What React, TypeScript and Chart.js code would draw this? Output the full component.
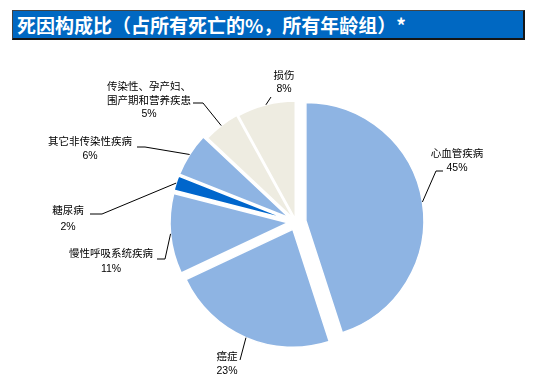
import React, { useEffect, useRef } from "react";
import { Chart, registerables, ArcElement } from "chart.js";

Chart.register(...registerables);

// ---- data ----
const categories: string[] = [
  "心血管疾病",
  "癌症",
  "慢性呼吸系统疾病",
  "糖尿病",
  "其它非传染性疾病",
  "传染性、孕产妇、围产期和营养疾患",
  "损伤",
];
const shares: number[] = [45, 23, 11, 2, 6, 5, 8];
const titleText = "死因构成比（占所有死亡的%，所有年龄组）*";

// ---- styling ----
const sliceColors = ["#8EB4E3", "#8EB4E3", "#8EB4E3", "#0066CC", "#8EB4E3", "#EEECE1", "#EEECE1"];
const explode = [10, 8, 8, 8, 8, 4, 3];

// label layout, relative to the pie centre: elbow point, horizontal tail, text block centre, line height
const labelLayout = [
  { elbow: [140, -51], tail: 7, text: [161, -61], lh: 14 },
  { elbow: [-56, 138], tail: 0, text: [-69, 142], lh: 13.5 },
  { elbow: [-131, 37], tail: -8, text: [-185, 40], lh: 15 },
  { elbow: [-194, -8], tail: -12, text: [-228, -3], lh: 16.5 },
  { elbow: [-151, -75], tail: -8, text: [-206, -73], lh: 14 },
  { elbow: [-93, -119], tail: -10, text: [-147, -121], lh: 13.5 },
  { elbow: [-25, -125], tail: 0, text: [-12, -139], lh: 13 },
];

const wrapLabel = (c: string): string[] => (c.length > 10 ? [c.slice(0, 8), c.slice(8)] : [c]);

const explodePlugin = {
  id: "explodeSlices",
  afterDatasetUpdate(chart: any, args: any) {
    args.meta.data.forEach((el: any, i: number) => {
      if (el.__exploded) return;
      el.__exploded = true;
      el.draw = function (ctx: CanvasRenderingContext2D) {
        const mid = (this.startAngle + this.endAngle) / 2;
        const t = explode[i] || 0;
        ctx.save();
        ctx.translate(Math.cos(mid) * t, Math.sin(mid) * t);
        ArcElement.prototype.draw.call(this, ctx);
        ctx.restore();
      };
    });
  },
};

const labelPlugin = {
  id: "pieLabels",
  afterDatasetsDraw(chart: any) {
    const meta = chart.getDatasetMeta(0);
    const ctx: CanvasRenderingContext2D = chart.ctx;
    ctx.save();
    meta.data.forEach((arc: any, i: number) => {
      const { x, y, startAngle, endAngle, outerRadius } = arc.getProps(
        ["x", "y", "startAngle", "endAngle", "outerRadius"],
        true
      );
      const mid = (startAngle + endAngle) / 2;
      const t = explode[i] || 0;
      const ax = x + Math.cos(mid) * (outerRadius + t);
      const ay = y + Math.sin(mid) * (outerRadius + t);
      const L = labelLayout[i];
      const ex = x + L.elbow[0];
      const ey = y + L.elbow[1];
      ctx.beginPath();
      ctx.strokeStyle = "#000";
      ctx.lineWidth = 1;
      ctx.moveTo(ax, ay);
      ctx.lineTo(ex, ey);
      if (L.tail) ctx.lineTo(ex + L.tail, ey);
      ctx.stroke();

      const lines = [...wrapLabel(categories[i]), `${shares[i]}%`];
      const tx = x + L.text[0];
      const ty = y + L.text[1];
      ctx.fillStyle = "#000";
      ctx.font = '10.5px "Liberation Sans", "Noto Sans CJK SC", sans-serif';
      ctx.textAlign = "center";
      ctx.textBaseline = "middle";
      const n = lines.length;
      lines.forEach((s, k) => {
        ctx.fillText(s, tx, ty - ((n - 1) * L.lh) / 2 + k * L.lh);
      });
    });
    ctx.restore();
  },
};

export default function App() {
  const canvasRef = useRef<HTMLCanvasElement | null>(null);

  useEffect(() => {
    if (!canvasRef.current) return;
    const chart = new Chart(canvasRef.current, {
      type: "pie",
      data: {
        labels: categories,
        datasets: [
          {
            data: shares,
            backgroundColor: sliceColors,
            borderColor: "#ffffff",
            borderWidth: 1.5,
          },
        ],
      },
      options: {
        responsive: false,
        animation: false,
        devicePixelRatio: 1,
        radius: 118,
        layout: { padding: { left: 58, top: 60, right: 0, bottom: 0 } },
        plugins: {
          legend: { display: false },
          title: { display: false },
          tooltip: { enabled: false },
        },
      } as any,
      plugins: [explodePlugin, labelPlugin],
    });
    return () => chart.destroy();
  }, []);

  return (
    <div
      style={{
        position: "absolute",
        left: 0,
        top: 0,
        width: 534,
        height: 384,
        background: "#fff",
        overflow: "hidden",
      }}
    >
      <canvas
        ref={canvasRef}
        width={534}
        height={384}
        style={{ position: "absolute", left: 0, top: 0, display: "block" }}
      />
      <div
        style={{
          position: "absolute",
          left: 12,
          top: 10,
          width: 506,
          height: 27,
          background: "#0068C2",
          borderTop: "1px solid #444",
          borderLeft: "1px solid #444",
          borderRight: "2px solid #151515",
          borderBottom: "2px solid #151515",
          color: "#fff",
          fontFamily: '"Noto Sans CJK SC", sans-serif',
          fontWeight: 700,
          fontSize: 19,
          lineHeight: "28px",
          paddingLeft: 4,
          boxSizing: "content-box",
          whiteSpace: "nowrap",
        }}
      >
        {titleText}
      </div>
    </div>
  );
}
